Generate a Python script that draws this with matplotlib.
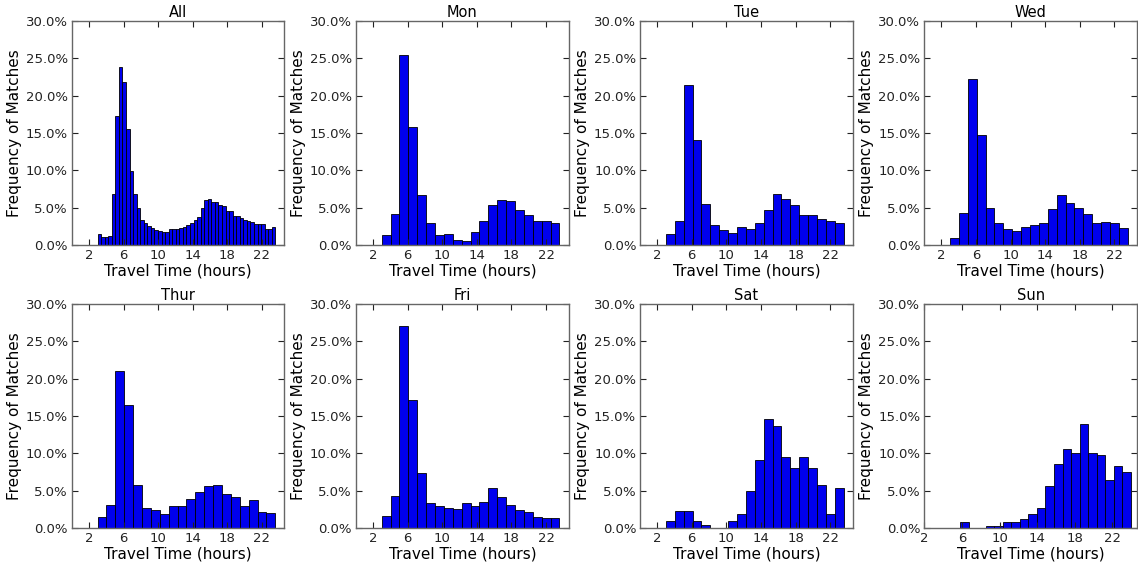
import numpy as np
import matplotlib
matplotlib.use("Agg")
import matplotlib.pyplot as plt
from matplotlib.ticker import FuncFormatter

# Percent of matches per travel-time bin.
all_days = [1.5, 1.1, 1.1, 1.15, 6.8, 17.3, 23.9, 21.9, 15.5, 9.9,
            6.9, 4.9, 3.3, 2.9, 2.5, 2.3, 2.0, 1.9, 1.7, 1.8,
            2.2, 2.2, 2.1, 2.3, 2.4, 2.7, 3.0, 3.4, 3.7, 4.9,
            6.0, 6.1, 5.7, 5.7, 5.3, 5.2, 4.5, 4.6, 3.9, 3.9,
            3.6, 3.4, 3.2, 3.1, 2.8, 2.8, 2.8, 2.2, 2.2, 2.4]
mon = [1.3, 4.2, 25.4, 15.8, 6.65, 2.95, 1.3, 1.43, 0.7, 0.6,
       1.8, 3.2, 5.3, 6.0, 5.85, 4.7, 4.0, 3.25, 3.25, 2.95]
tue = [1.43, 3.25, 21.4, 14.0, 5.5, 2.7, 2.05, 1.65, 2.35, 2.15,
       2.95, 4.7, 6.9, 6.15, 5.35, 4.05, 4.05, 3.55, 3.25, 2.95]
wed = [1.0, 4.3, 22.3, 14.8, 5.0, 2.9, 2.1, 1.9, 2.4, 2.7,
       2.9, 4.8, 6.65, 5.6, 5.0, 4.2, 2.9, 3.1, 3.0, 2.3]
thur = [1.5, 3.1, 21.0, 16.5, 5.8, 2.65, 2.35, 1.85, 2.9, 2.9,
        3.85, 4.85, 5.65, 5.8, 4.5, 4.1, 3.0, 3.75, 2.1, 1.95]
fri = [1.65, 4.3, 27.1, 17.15, 7.35, 3.4, 2.9, 2.7, 2.55, 3.3,
       2.9, 3.5, 5.35, 4.2, 3.1, 2.35, 2.15, 1.5, 1.35, 1.3]
sat = [0.95, 2.3, 2.3, 0.95, 0.45, 0.0, 0.0, 0.95, 1.9, 5.0,
       9.05, 14.55, 13.65, 9.5, 8.1, 9.5, 8.1, 5.8, 1.85, 5.35]
sun = [0.8, 0.0, 0.0, 0.3, 0.3, 0.76, 0.76, 1.16, 1.83, 2.63,
       5.6, 8.6, 10.6, 10.1, 13.9, 10.1, 9.8, 6.4, 8.3, 7.5]

titles = ["All", "Mon", "Tue", "Wed", "Thur", "Fri", "Sat", "Sun"]
series = [all_days, mon, tue, wed, thur, fri, sat, sun]
bin_range = [(3.0, 23.55)] * 7 + [(5.8, 23.95)]
x_range = [(0.05, 24.6)] * 7 + [(2.0, 24.6)]
xticks = [2, 6, 10, 14, 18, 22]

plt.rcParams["font.family"] = "DejaVu Sans"
plt.rcParams["xtick.direction"] = "in"
plt.rcParams["ytick.direction"] = "in"
plt.rcParams["xtick.top"] = True
plt.rcParams["ytick.right"] = True

fig, nd_axes = plt.subplots(2, 4, figsize=(11.38, 5.65), dpi=100)
axes = np.array(nd_axes).flatten()
for i, ax in enumerate(axes):
    vals = np.array(series[i]) / 100.0
    edges = np.linspace(bin_range[i][0], bin_range[i][1], len(vals) + 1)
    ax.bar(edges[:-1], vals, width=np.diff(edges), align="edge",
           color="#0000ee", edgecolor="black", linewidth=0.6)
    ax.set_xlim(*x_range[i])
    ax.set_ylim(0, 0.30)
    ax.set_xticks(xticks)
    ax.set_yticks(np.arange(0, 0.301, 0.05))
    ax.yaxis.set_major_formatter(FuncFormatter(lambda v, p: f"{v * 100:.1f}%"))
    ax.tick_params(labelsize=9.5, length=4, width=0.8, colors="#222222", pad=3)
    for s in ax.spines.values():
        s.set_color("#666666")
        s.set_linewidth(1.0)
    ax.set_title(titles[i], fontsize=10.5, pad=3)
    ax.set_xlabel("Travel Time (hours)", fontsize=11, labelpad=1)
    ax.set_ylabel("Frequency of Matches", fontsize=11, labelpad=3)

plt.subplots_adjust(left=0.0633, right=0.999, top=0.9628, bottom=0.0655,
                    wspace=0.338, hspace=0.263)
plt.savefig("out.png", dpi=100)
